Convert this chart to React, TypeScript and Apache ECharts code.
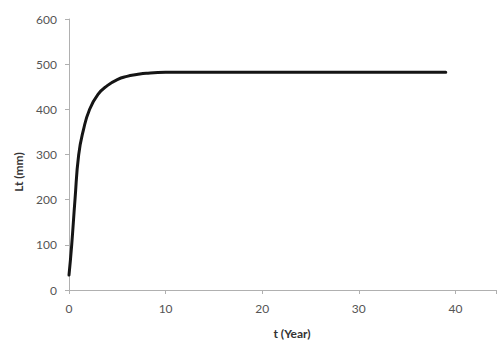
import React, { useEffect, useRef } from "react";
import * as echarts from "echarts";

const tYears = [0, 0.28, 0.62, 1, 1.5, 2.1, 3, 4, 5, 6, 7, 8, 10, 15, 20, 25, 30, 35, 39];
const lengthMm = [33, 100, 200, 299, 355, 398, 433, 453, 466, 473, 477, 480, 482, 482, 482, 482, 482, 482, 482];
const xTicks = [0, 10, 20, 30, 40];

export default function App() {
  const ref = useRef<HTMLDivElement>(null);
  useEffect(() => {
    if (!ref.current) return;
    const chart = echarts.init(ref.current, null, { renderer: "svg" });
    const font = "Lato, 'Open Sans', sans-serif";
    chart.setOption({
      animation: false,
      backgroundColor: "#ffffff",
      grid: { left: 69, right: 0, top: 19, bottom: 57 },
      xAxis: {
        type: "value",
        min: 0,
        max: 44.2,
        interval: 10,
        axisLine: { show: true, lineStyle: { color: "#b0b0b0", width: 1 } },
        axisTick: { show: true, length: 4, lineStyle: { color: "#b0b0b0" } },
        splitLine: { show: false },
        axisLabel: {
          margin: 12,
          color: "#555555",
          fontSize: 12,
          fontFamily: font,
          formatter: (v: number) => (xTicks.includes(v) ? String(v) : ""),
        },
      },
      yAxis: {
        type: "value",
        min: 0,
        max: 600,
        interval: 100,
        axisLine: { show: true, lineStyle: { color: "#b0b0b0", width: 1 } },
        axisTick: { show: true, length: 4, lineStyle: { color: "#b0b0b0" } },
        splitLine: { show: false },
        axisLabel: { margin: 12, color: "#555555", fontSize: 12, fontFamily: font },
      },
      graphic: [
        {
          type: "text",
          x: 18,
          y: 172,
          rotation: Math.PI / 2,
          style: {
            text: "Lt (mm)",
            fontSize: 12,
            fontWeight: "bold",
            fontFamily: font,
            fill: "#333333",
            align: "center",
            verticalAlign: "middle",
          },
        },
        {
          type: "text",
          x: 292,
          y: 333,
          style: {
            text: "t (Year)",
            fontSize: 12,
            fontWeight: "bold",
            fontFamily: font,
            fill: "#333333",
            align: "center",
            verticalAlign: "middle",
          },
        },
      ],
      series: [
        {
          type: "line",
          data: tYears.map((t, i) => [t, lengthMm[i]]),
          smooth: true,
          showSymbol: false,
          lineStyle: { color: "#151515", width: 3, cap: "round", join: "round" },
        },
      ],
    });
    return () => chart.dispose();
  }, []);
  return (
    <div
      ref={ref}
      style={{ position: "fixed", left: 0, top: 0, width: 499, height: 347 }}
    />
  );
}
